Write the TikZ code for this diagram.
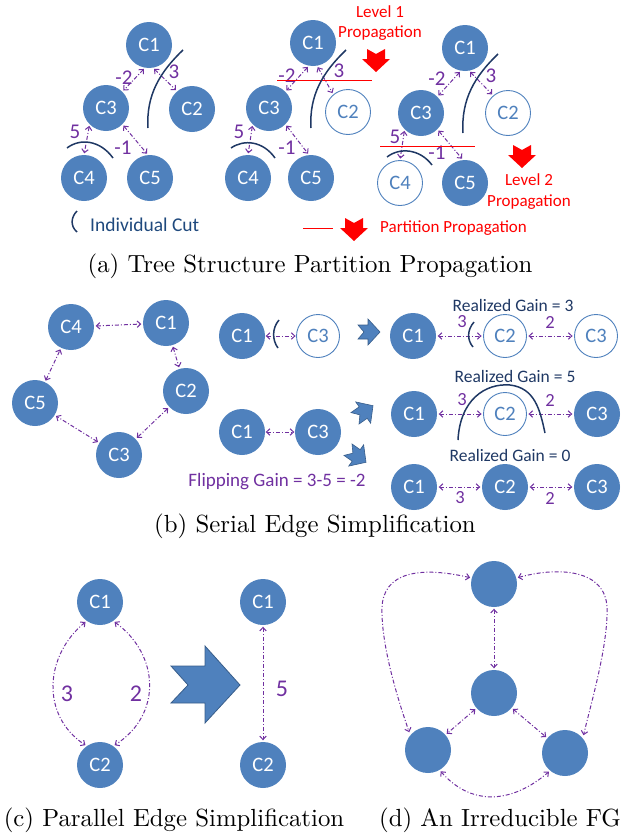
\documentclass[tikz,border=0pt]{standalone}
\usepackage{fontspec}
\newfontfamily\carl{Carlito}
\newfontfamily\capf{lmroman10-regular.otf}
\usetikzlibrary{arrows.meta}
\definecolor{nb}{HTML}{4F81BD}
\definecolor{ep}{HTML}{7030A0}
\definecolor{nv}{HTML}{1F3864}
\definecolor{ar}{HTML}{385D8A}
\definecolor{ic}{HTML}{1F497D}
\tikzset{
  fn/.style={circle,fill=nb,inner sep=0,minimum size=46pt,text=white,font=\carl\fontsize{20.5}{20}\selectfont},
  on/.style={circle,draw=nb,line width=0.9pt,fill=white,inner sep=0,minimum size=45pt,text=nb,font=\carl\fontsize{20.5}{20}\selectfont},
  ed/.style={draw=ep,line width=1pt,dash pattern=on 4pt off 2pt on 1pt off 2pt,
     {Straight Barb[length=3.5pt,width=6.5pt]}-{Straight Barb[length=3.5pt,width=6.5pt]},shorten <=1.5pt,shorten >=1.5pt},
  el/.style={text=ep,font=\carl\fontsize{21}{21}\selectfont,inner sep=0},
  cut/.style={draw=nv,line width=1.5pt},
  rl/.style={draw=red,line width=1pt},
  rt/.style={text=red,font=\carl\fontsize{17}{20.5}\selectfont,align=center,inner sep=0},
  gt/.style={text=nv,font=\carl\fontsize{17.5}{17}\selectfont,inner sep=0},
  capt/.style={font=\capf\fontsize{24.8}{28}\selectfont,inner sep=0,anchor=base},
  redarrow/.pic={\fill[red] (-9,0)--(0,5)--(9,0)--(9,10)--(14,10)--(0,23)--(-14,10)--(-9,10)--cycle;},
  bluearrow/.pic={\filldraw[fill=nb,draw=ar,line width=0.6pt] (-11,-7)--(-5,0)--(-11,7)--(-1,7)--(-1,13)--(11,0)--(-1,-13)--(-1,-7)--cycle;}
}
\begin{document}
\begin{tikzpicture}[x=1pt,y=-1pt]
\useasboundingbox (0,0) rectangle (626,838);
% ---------- (a) left tree
\node[fn] (a1) at (149,45) {C1};
\node[fn] (a3) at (106,108) {C3};
\node[fn] (a2) at (192,109) {C2};
\node[fn] (a4) at (84,178) {C4};
\node[fn] (a5) at (150,178) {C5};
\draw[ed] (a1.-100) -- (a3.45);
\draw[ed] (a1.-80) -- (a2.130);
\draw[ed] (a3.-135) -- (a4.90);
\draw[ed] (a3.-45) -- (a5.95);
\node[el] (la1) at (124,78) {-2};
\node[el] (la2) at (174,72) {3};
\node[el] (la3) at (75,132) {5};
\node[el] (la4) at (123,148) {-1};
\draw[cut] (183,50) .. controls (160,72) and (146,95) .. (148,128);
\draw[cut] (67,148) .. controls (80,138) and (100,140) .. (113,158);
\draw[cut] (77,211) .. controls (71,217) and (70,226) .. (77,232);
\node[text=ic,font=\carl\fontsize{19.5}{19}\selectfont,anchor=west,inner sep=0] (ict) at (90,225) {Individual Cut};
% ---------- (a) middle tree
\node[fn] (b1) at (313,43) {C1};
\node[fn] (b3) at (269,108) {C3};
\node[on] (b2) at (348,112) {C2};
\node[fn] (b4) at (248,178) {C4};
\node[fn] (b5) at (311,178) {C5};
\draw[ed] (b1.-100) -- (b3.45);
\draw[ed] (b1.-80) -- (b2.130);
\draw[ed] (b3.-135) -- (b4.90);
\draw[ed] (b3.-45) -- (b5.95);
\node[el] (lb1) at (287,76) {-2};
\node[el] (lb2) at (339,71) {3};
\node[el] (lb3) at (239,132) {5};
\node[el] (lb4) at (287,148) {-1};
\draw[rl] (277,80) -- (372,80);
\draw[cut] (346,50) .. controls (323,72) and (309,95) .. (311,128);
\draw[cut] (231,148) .. controls (244,139) and (263,141) .. (275,158);
\node[rt] (lv1) at (380,23) {Level 1\\Propagation};
\pic at (376,49) {redarrow};
% ---------- (a) right tree
\node[fn] (c1) at (465,48) {C1};
\node[fn] (c3) at (421,113) {C3};
\node[on] (c2) at (508,113) {C2};
\node[on] (c4) at (400,183) {C4};
\node[fn] (c5) at (465,183) {C5};
\draw[ed] (c1.-100) -- (c3.45);
\draw[ed] (c1.-80) -- (c2.130);
\draw[ed] (c3.-135) -- (c4.90);
\draw[ed] (c3.-45) -- (c5.95);
\node[el] (lc1) at (437,79) {-2};
\node[el] (lc2) at (491,76) {3};
\node[el] (lc3) at (395,137) {5};
\node[el] (lc4) at (437,153) {-1};
\draw[rl] (380,146) -- (475,146);
\draw[cut] (498,54) .. controls (475,76) and (461,99) .. (463,133);
\draw[cut] (387,157) .. controls (400,147) and (420,149) .. (432,165);
\node[rt] (lv2) at (529,191.5) {Level 2\\Propagation};
\pic at (522,145) {redarrow};
% legend
\draw[rl] (303,228) -- (333,228);
\pic at (354,218) {redarrow};
\node[rt,anchor=west] (ppt) at (380,228) {Partition Propagation};
\node[capt] (capa) at (310,272) {(a) Tree Structure Partition Propagation};
% ---------- (b) pentagon
\begin{scope}[every node/.append style={minimum size=44pt}]
\node[fn] (p4) at (71,327) {C4};
\node[fn] (p1) at (166,323) {C1};
\node[fn] (p2) at (186,391) {C2};
\node[fn] (p5) at (35,403) {C5};
\node[fn] (p3) at (119,455) {C3};
\node[fn] (r1) at (242,336) {C1};
\node[on,minimum size=43pt] (r3) at (318,336) {C3};
\node[fn] (t1) at (242,432) {C1};
\node[fn] (t3) at (318,432) {C3};
\node[fn] (q1) at (413,336) {C1};
\node[on,minimum size=43pt] (q2) at (505,336) {C2};
\node[on,minimum size=43pt] (q3) at (596,336) {C3};
\node[fn] (u1) at (414,414) {C1};
\node[on,minimum size=43pt] (u2) at (505,414) {C2};
\node[fn] (u3) at (597,414) {C3};
\node[fn] (v1) at (414,487) {C1};
\node[fn] (v2) at (505,487) {C2};
\node[fn] (v3) at (597,487) {C3};
\end{scope}
\draw[ed] (p4) -- (p1);
\draw[ed] (p1) -- (p2);
\draw[ed] (p2) -- (p3);
\draw[ed] (p3) -- (p5);
\draw[ed] (p5) -- (p4);
\draw[ed,shorten <=0.5pt,shorten >=0.5pt] (r1) -- (r3);
\draw[cut] (279,320) .. controls (272,328) and (272,340) .. (278,348);
\draw[ed,shorten <=0.5pt,shorten >=0.5pt] (t1) -- (t3);
\draw[ed] (q1) -- (q2);
\draw[ed] (q2) -- (q3);
\draw[ed] (u1) -- (u2);
\draw[ed] (u2) -- (u3);
\draw[ed] (v1) -- (v2);
\draw[ed] (v2) -- (v3);
\draw[cut] (474,322) .. controls (467,330) and (467,340) .. (473,347);
\draw[cut] (458,440) .. controls (460,400) and (485,383) .. (510,385) .. controls (535,388) and (540,410) .. (545,433);
\node[el,font=\carl\fontsize{18.5}{18}\selectfont] (lq1) at (462,322) {3};
\node[el,font=\carl\fontsize{18.5}{18}\selectfont] (lq2) at (550,322) {2};
\node[el,font=\carl\fontsize{18.5}{18}\selectfont] (lu1) at (462,400) {3};
\node[el,font=\carl\fontsize{18.5}{18}\selectfont] (lu2) at (550,400) {2};
\node[el,font=\carl\fontsize{18.5}{18}\selectfont] (lv1b) at (460,498) {3};
\node[el,font=\carl\fontsize{18.5}{18}\selectfont] (lv2b) at (550,498) {2};
\node[gt] (g3) at (513,305) {Realized Gain = 3};
\node[gt] (g5) at (515,376) {Realized Gain = 5};
\node[gt] (g0) at (510,455) {Realized Gain = 0};
\node[el,font=\carl\fontsize{19}{19}\selectfont] (fg) at (277,482) {Flipping Gain = 3-5 = -2};
\pic at (369,332) {bluearrow};
\pic[rotate=35] at (364,412) {bluearrow};
\pic[rotate=-35] at (357,456) {bluearrow};
\node[capt] (capb) at (315,532) {(b) Serial Edge Simplification};
% ---------- (c)
\begin{scope}[every node/.append style={minimum size=58pt,font=\carl\fontsize{25}{25}\selectfont}]
\node[fn] (cl1) at (100,602) {C1};
\node[fn] (cl2) at (100,765) {C2};
\node[fn] (cr1) at (263,602) {C1};
\node[fn] (cr2) at (263,765) {C2};
\end{scope}
\draw[ed] (cl1.-125) .. controls (45,655) and (40,715) .. (cl2.125);
\draw[ed] (cl1.-55) .. controls (160,655) and (162,715) .. (cl2.55);
\draw[ed] (cr1) -- (cr2);
\node[el,font=\carl\fontsize{24}{24}\selectfont] (l3c) at (67,694) {3};
\node[el,font=\carl\fontsize{24}{24}\selectfont] (l2c) at (136,694) {2};
\node[el,font=\carl\fontsize{24}{24}\selectfont] (l5c) at (282,689) {5};
\filldraw[fill=nb,draw=ar,line width=0.8pt] (171,666) -- (188,685) -- (171,703) -- (205,703) -- (205,723) -- (240,685) -- (205,646) -- (205,666) -- cycle;
\node[capt] (capc) at (174,826) {(c) Parallel Edge Simplification};
% ---------- (d)
\begin{scope}[every node/.append style={minimum size=38pt}]
\node[fn] (d1) at (494,584) {};
\node[fn] (d2) at (494,693) {};
\node[fn] (d3) at (428,750) {};
\node[fn] (d4) at (565,753) {};
\end{scope}
\draw[ed] (d1) -- (d2);
\draw[ed] (d2) -- (d3);
\draw[ed] (d2) -- (d4);
\draw[ed] (d3.-60) .. controls (470,805) and (510,805) .. (d4.-130);
\draw[ed,shorten >=3pt] (d1.165) .. controls (420,566) and (383,572) .. (382,608) .. controls (381,645) and (398,700) .. (d3.140);
\draw[ed,shorten >=3pt] (d1.15) .. controls (560,566) and (606,570) .. (607,608) .. controls (608,645) and (592,700) .. (d4.40);
\node[capt] (capd) at (500,826) {(d) An Irreducible FG};
\end{tikzpicture}
\end{document}
